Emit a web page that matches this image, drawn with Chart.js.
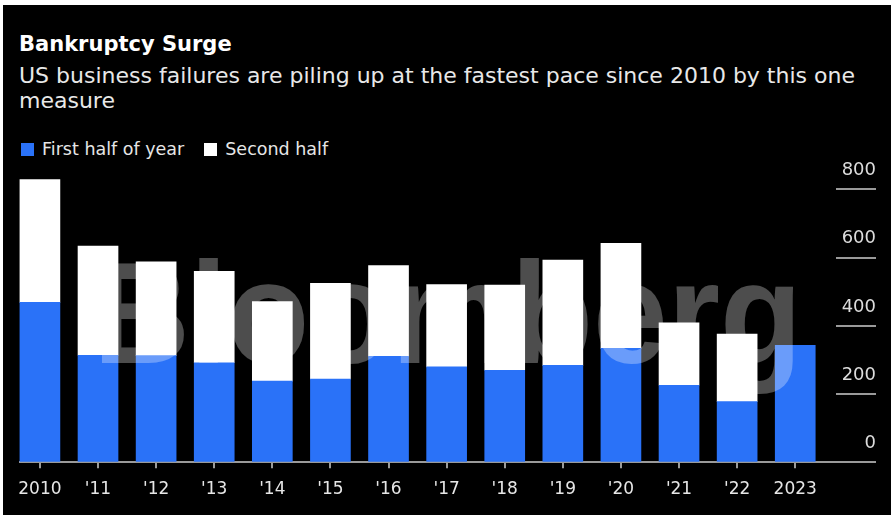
<!DOCTYPE html>
<html lang="en">

<head>
    <meta charset="UTF-8">
    <meta name="viewport" content="width=device-width, initial-scale=1.0">
    <title>Bankruptcy Surge</title>
    <script src="https://cdn.jsdelivr.net/npm/chart.js"></script>
    <style>
        body {
            margin: 0;
            background: #fff;
            width: 891px;
            height: 515px;
            overflow: hidden;
            font-family: "DejaVu Sans", sans-serif;
        }

        .janela {
            position: absolute;
            left: 3px;
            top: 5px;
            width: 888px;
            height: 510px;
            background: #000;
        }

        .titulo {
            position: absolute;
            left: 16px;
            top: 27px;
            font-size: 21px;
            line-height: 25px;
            font-weight: bold;
            color: #fff;
            white-space: nowrap;
        }

        .subtitulo {
            position: absolute;
            left: 16px;
            top: 58px;
            font-size: 22px;
            line-height: 25px;
            color: #e8e8e8;
            white-space: nowrap;
        }

        .legenda {
            position: absolute;
            left: 18px;
            top: 135px;
            height: 18px;
            display: flex;
            align-items: center;
            font-size: 17.5px;
            line-height: 18px;
            color: #e6e6e6;
            white-space: nowrap;
        }

        .quadrado {
            width: 13px;
            height: 13px;
            margin-right: 8px;
        }

        .grafico {
            position: absolute;
            left: 0;
            top: 0;
            width: 888px;
            height: 510px;
        }
    </style>
</head>

<body>
    <div class="janela">
        <div class="titulo">Bankruptcy Surge</div>
        <div class="subtitulo">US business failures are piling up at the fastest pace since 2010 by this one<br>measure</div>
        <div class="legenda">
            <span class="quadrado" style="background:#2a72f8"></span><span>First half of year</span>
            <span class="quadrado" style="background:#fff; margin-left:20px"></span><span>Second half</span>
        </div>
        <div class="grafico">
            <canvas id="barras"></canvas>
        </div>
    </div>

    <script>
        const years = [2010, 2011, 2012, 2013, 2014, 2015, 2016, 2017, 2018, 2019, 2020, 2021, 2022, 2023];
        const yearLabels = ['2010', "'11", "'12", "'13", "'14", "'15", "'16", "'17", "'18", "'19", "'20", "'21", "'22", '2023'];
        const firstHalf = [469, 314, 313, 292, 238, 244, 311, 280, 270, 284, 334, 226, 178, 343];
        const secondHalf = [360, 320, 275, 268, 233, 281, 266, 241, 250, 309, 308, 183, 198, null];
        const yTicks = [0, 200, 400, 600, 800];

        Chart.defaults.font.family = '"DejaVu Sans", sans-serif';

        // watermark over the bars
        const watermark = {
            id: 'watermark',
            afterDatasetsDraw(chart) {
                const ctx = chart.ctx;
                ctx.save();
                ctx.font = 'bold 144px "Liberation Sans"';
                const w = ctx.measureText('Bloomberg').width;
                ctx.translate(90, 358);
                ctx.scale(709 / w, 1);
                ctx.fillStyle = 'rgba(255, 255, 255, 0.3)';
                ctx.fillText('Bloomberg', 0, 0);
                ctx.restore();
            }
        };

        const data = {
            labels: years,
            datasets: [{
                label: 'First half of year',
                backgroundColor: '#2a72f8',
                data: firstHalf,
            },
            {
                label: 'Second half',
                backgroundColor: '#ffffff',
                data: secondHalf,
            }]
        };

        const config = {
            type: 'bar',
            data: data,
            plugins: [watermark],
            options: {
                responsive: true,
                maintainAspectRatio: false,
                animation: false,
                barThickness: 40,
                layout: { padding: { top: 164, right: 15, bottom: 4.3, left: 16 } },
                plugins: {
                    legend: { display: false },
                    tooltip: { enabled: false }
                },
                scales: {
                    x: {
                        type: 'linear',
                        stacked: true,
                        offset: false,
                        min: 2009.64,
                        max: 2024.39,
                        afterBuildTicks: (scale) => { scale.ticks = years.map(v => ({ value: v })); },
                        grid: { offset: false, drawOnChartArea: false, drawTicks: true, tickLength: 6, color: '#9a9a9a', lineWidth: 2 },
                        border: { display: false },
                        ticks: {
                            callback: (v) => yearLabels[years.indexOf(v)],
                            color: '#e6e6e6',
                            font: { size: 17 },
                            padding: 11,
                            maxRotation: 0,
                            autoSkip: false
                        }
                    },
                    y: {
                        stacked: true,
                        position: 'right',
                        min: 0,
                        max: 860,
                        afterBuildTicks: (scale) => { scale.ticks = yTicks.map(v => ({ value: v })); },
                        grid: { drawTicks: false, color: '#9a9a9a', lineWidth: 2 },
                        border: {
                            display: false,
                            dash: (ctx) => {
                                const area = ctx.chart.chartArea;
                                if (!area || !ctx.tick || ctx.tick.value === 0) return [];
                                return [0, area.width - 40, 40];
                            }
                        },
                        ticks: {
                            mirror: true,
                            padding: 0,
                            labelOffset: -19,
                            color: '#dcdcdc',
                            font: { size: 18 }
                        }
                    }
                }
            }
        };

        const myChart = new Chart(document.getElementById('barras'), config);
    </script>
</body>

</html>
